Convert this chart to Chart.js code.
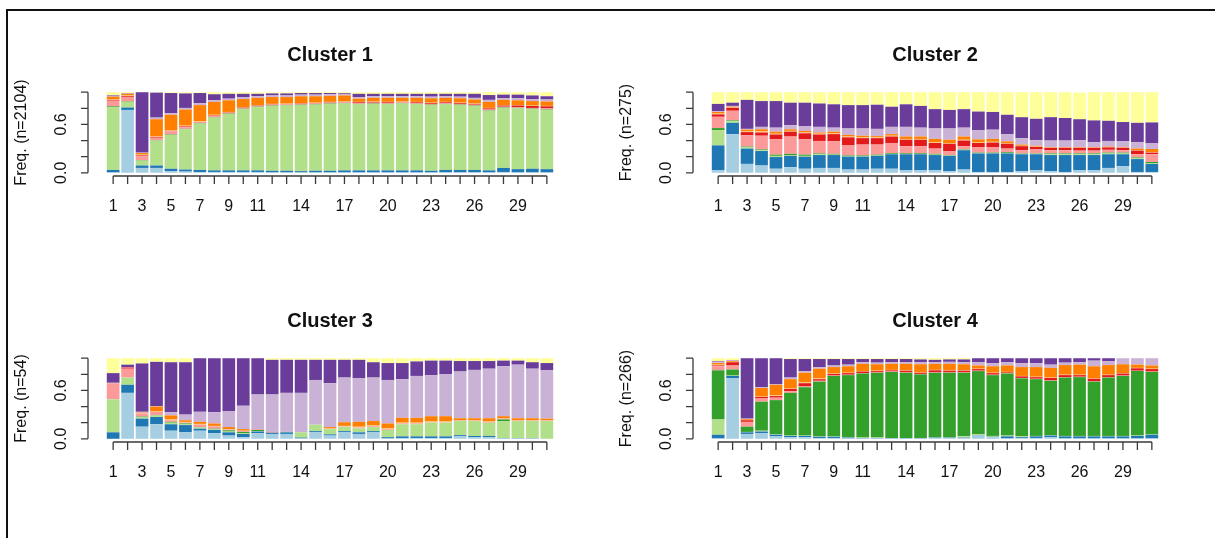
<!DOCTYPE html>
<html>
<head>
<meta charset="utf-8">
<script src="https://cdn.jsdelivr.net/npm/chart.js@4/dist/chart.umd.min.js"></script>
<style>
  html, body { margin: 0; padding: 0; background: #fff; }
  body { width: 1215px; height: 538px; position: relative; overflow: hidden; }
  .frame { position: absolute; left: 6px; top: 9px; width: 1400px; height: 700px;
           border-top: 2px solid #111; border-left: 2px solid #111; }
  .panel { position: absolute; width: 607px; height: 269px; }
  .panel canvas { display: block; }
</style>
</head>
<body>
<div class="frame"></div>
<div class="panel" style="left:0px;top:0px"><canvas id="c1" width="607" height="269"></canvas></div>
<div class="panel" style="left:605px;top:0px"><canvas id="c2" width="607" height="269"></canvas></div>
<div class="panel" style="left:0px;top:266px"><canvas id="c3" width="607" height="269"></canvas></div>
<div class="panel" style="left:605px;top:266px"><canvas id="c4" width="607" height="269"></canvas></div>
<script>
// Time positions (x values) and the labelled subset on the x axis
const positions = [1,2,3,4,5,6,7,8,9,10,11,12,13,14,15,16,17,18,19,20,21,22,23,24,25,26,27,28,29,30,31];
const xTickLabels = ['1','3','5','7','9','11','14','17','20','23','26','29'];
const yTickValues = [0, 0.2, 0.4, 0.6, 0.8, 1.0];
const yTickLabels = ['0.0', '0.6'];

// State alphabet, stacked bottom to top (Paired palette)
const stateNames = ['S1','S2','S3','S4','S5','S6','S7','S8','S9','S10','S11'];
const stateColors = ['#A6CEE3','#1F78B4','#B2DF8A','#33A02C','#FB9A99','#E31A1C',
                     '#FDBF6F','#FF7F00','#CAB2D6','#6A3D9A','#FFFF99'];

const clusterTitles = ['Cluster 1', 'Cluster 2', 'Cluster 3', 'Cluster 4'];
const clusterSizes = [2104, 275, 54, 266];

// Cross-sectional state frequencies: one row per position, one column per state
const cluster1Shares = [
  [0.005,0.03,0.78,0.01,0.07,0.01,0.01,0.03,0.005,0.01,0.04],
  [0.78,0.03,0.07,0.005,0.05,0.015,0.01,0.02,0.005,0.005,0.01],
  [0.06,0.03,0.06,0.005,0.05,0.01,0.01,0.02,0.005,0.75,0.0],
  [0.06,0.03,0.31,0.005,0.03,0.01,0.01,0.21,0.02,0.31,0.005],
  [0.02,0.03,0.42,0.005,0.04,0.005,0.01,0.19,0.02,0.25,0.01],
  [0.015,0.025,0.5,0.005,0.02,0.01,0.01,0.2,0.02,0.18,0.015],
  [0.01,0.025,0.575,0.005,0.01,0.005,0.01,0.2,0.025,0.125,0.01],
  [0.01,0.02,0.655,0.005,0.01,0.01,0.01,0.16,0.02,0.075,0.025],
  [0.01,0.02,0.70,0.005,0.01,0.005,0.005,0.145,0.02,0.06,0.02],
  [0.01,0.02,0.76,0.005,0.01,0.005,0.005,0.1,0.025,0.04,0.02],
  [0.01,0.02,0.785,0.005,0.01,0.005,0.005,0.09,0.02,0.03,0.02],
  [0.005,0.02,0.805,0.005,0.01,0.005,0.005,0.085,0.02,0.025,0.015],
  [0.005,0.02,0.81,0.005,0.01,0.005,0.005,0.08,0.02,0.025,0.015],
  [0.005,0.015,0.82,0.005,0.01,0.005,0.005,0.085,0.02,0.02,0.01],
  [0.005,0.02,0.82,0.005,0.01,0.005,0.005,0.08,0.02,0.02,0.01],
  [0.005,0.02,0.83,0.005,0.01,0.005,0.005,0.075,0.02,0.015,0.01],
  [0.005,0.025,0.83,0.005,0.01,0.005,0.005,0.075,0.02,0.01,0.01],
  [0.005,0.025,0.82,0.005,0.01,0.01,0.005,0.04,0.02,0.04,0.02],
  [0.005,0.025,0.825,0.005,0.01,0.01,0.005,0.045,0.02,0.03,0.02],
  [0.005,0.025,0.82,0.005,0.01,0.01,0.005,0.05,0.02,0.03,0.02],
  [0.005,0.025,0.83,0.005,0.01,0.005,0.005,0.045,0.02,0.03,0.02],
  [0.005,0.025,0.82,0.005,0.01,0.01,0.005,0.05,0.02,0.03,0.02],
  [0.005,0.02,0.815,0.005,0.01,0.01,0.005,0.055,0.02,0.035,0.02],
  [0.005,0.03,0.815,0.005,0.01,0.01,0.005,0.05,0.02,0.03,0.02],
  [0.005,0.03,0.805,0.005,0.01,0.01,0.005,0.055,0.02,0.035,0.02],
  [0.005,0.03,0.795,0.005,0.01,0.01,0.005,0.05,0.02,0.05,0.02],
  [0.005,0.025,0.74,0.005,0.01,0.015,0.005,0.075,0.025,0.06,0.035],
  [0.01,0.05,0.745,0.005,0.01,0.015,0.005,0.065,0.02,0.045,0.03],
  [0.005,0.04,0.755,0.005,0.01,0.02,0.005,0.06,0.025,0.045,0.03],
  [0.005,0.045,0.74,0.005,0.01,0.025,0.005,0.055,0.025,0.045,0.04],
  [0.005,0.04,0.735,0.005,0.015,0.025,0.005,0.055,0.025,0.04,0.05]
];

const cluster2Shares = [
  [0.03,0.31,0.19,0.025,0.14,0.03,0.01,0.02,0.01,0.09,0.145],
  [0.48,0.14,0.02,0.01,0.12,0.035,0.005,0.01,0.01,0.04,0.13],
  [0.11,0.19,0.015,0.01,0.14,0.04,0.01,0.02,0.01,0.36,0.095],
  [0.09,0.18,0.01,0.01,0.17,0.04,0.015,0.025,0.03,0.32,0.11],
  [0.05,0.145,0.015,0.015,0.19,0.06,0.01,0.025,0.05,0.33,0.11],
  [0.07,0.14,0.01,0.015,0.215,0.06,0.01,0.02,0.05,0.28,0.13],
  [0.05,0.15,0.01,0.015,0.19,0.075,0.01,0.02,0.06,0.29,0.13],
  [0.06,0.16,0.01,0.01,0.155,0.08,0.01,0.015,0.07,0.29,0.14],
  [0.06,0.16,0.005,0.01,0.155,0.09,0.01,0.02,0.05,0.29,0.15],
  [0.04,0.16,0.005,0.01,0.125,0.10,0.01,0.02,0.08,0.29,0.16],
  [0.04,0.16,0.005,0.01,0.135,0.08,0.01,0.02,0.09,0.29,0.16],
  [0.05,0.16,0.005,0.01,0.125,0.08,0.01,0.015,0.09,0.30,0.155],
  [0.05,0.18,0.005,0.01,0.125,0.08,0.01,0.02,0.09,0.25,0.18],
  [0.03,0.20,0.005,0.01,0.085,0.08,0.01,0.03,0.12,0.28,0.15],
  [0.03,0.20,0.005,0.01,0.085,0.08,0.01,0.03,0.11,0.27,0.17],
  [0.03,0.19,0.005,0.01,0.065,0.07,0.01,0.04,0.13,0.24,0.21],
  [0.02,0.19,0.005,0.005,0.05,0.09,0.01,0.04,0.14,0.23,0.22],
  [0.04,0.24,0.005,0.005,0.04,0.07,0.01,0.04,0.11,0.23,0.21],
  [0.01,0.23,0.005,0.005,0.07,0.05,0.01,0.035,0.115,0.23,0.24],
  [0.01,0.23,0.005,0.005,0.07,0.055,0.01,0.035,0.115,0.22,0.245],
  [0.01,0.23,0.005,0.01,0.045,0.06,0.01,0.02,0.09,0.24,0.28],
  [0.02,0.21,0.005,0.005,0.04,0.05,0.005,0.015,0.08,0.26,0.31],
  [0.03,0.20,0.005,0.005,0.05,0.03,0.005,0.01,0.07,0.265,0.33],
  [0.02,0.20,0.01,0.01,0.04,0.03,0.005,0.005,0.08,0.29,0.31],
  [0.01,0.21,0.01,0.01,0.04,0.03,0.005,0.005,0.08,0.28,0.32],
  [0.03,0.19,0.01,0.01,0.035,0.035,0.005,0.005,0.085,0.26,0.33],
  [0.03,0.19,0.01,0.01,0.035,0.035,0.005,0.005,0.06,0.27,0.35],
  [0.06,0.17,0.01,0.01,0.035,0.03,0.005,0.005,0.07,0.25,0.355],
  [0.08,0.15,0.01,0.01,0.03,0.03,0.005,0.005,0.07,0.24,0.37],
  [0.01,0.16,0.01,0.01,0.04,0.045,0.005,0.02,0.08,0.24,0.38],
  [0.01,0.10,0.01,0.015,0.095,0.02,0.005,0.04,0.07,0.26,0.375]
];

const cluster3Shares = [
  [0,0.08,0.41,0,0.2,0,0,0,0.005,0.12,0.185],
  [0.57,0.1,0.09,0,0.11,0.015,0,0,0.005,0.03,0.08],
  [0.15,0.1,0.02,0.005,0.04,0,0.005,0.005,0.01,0.6,0.065],
  [0.18,0.09,0.02,0.005,0.04,0,0.005,0.06,0.005,0.55,0.045],
  [0.1,0.08,0.02,0.01,0.02,0,0.01,0.05,0.04,0.62,0.05],
  [0.08,0.09,0.01,0.01,0.01,0,0.01,0.02,0.07,0.65,0.05],
  [0.1,0.025,0.015,0.005,0.03,0,0.01,0.025,0.125,0.665,0],
  [0.07,0.04,0.01,0.005,0.03,0,0.005,0.03,0.14,0.67,0],
  [0.04,0.04,0.01,0.015,0.01,0,0.005,0.025,0.2,0.655,0],
  [0.02,0.04,0.01,0.015,0.01,0,0.005,0.02,0.29,0.59,0],
  [0.07,0.02,0.005,0.015,0.01,0,0,0,0.43,0.45,0],
  [0.06,0.015,0,0,0.01,0,0,0,0.465,0.43,0.02],
  [0.06,0.02,0.005,0,0,0,0,0,0.485,0.41,0.02],
  [0.005,0.01,0.065,0,0,0,0,0,0.49,0.41,0.02],
  [0.08,0.015,0.08,0,0,0,0,0,0.555,0.25,0.02],
  [0.04,0.015,0.065,0,0.005,0,0.005,0.015,0.545,0.29,0.02],
  [0.08,0.015,0.055,0,0.005,0,0.005,0.045,0.555,0.22,0.02],
  [0.06,0.02,0.05,0,0.01,0,0.01,0.06,0.54,0.23,0.02],
  [0.08,0.015,0.05,0,0.01,0,0.01,0.055,0.54,0.19,0.05],
  [0.005,0.015,0.09,0,0.01,0,0.01,0.06,0.54,0.21,0.06],
  [0.01,0.02,0.15,0,0.01,0,0.01,0.06,0.48,0.2,0.06],
  [0.01,0.02,0.15,0,0.01,0,0.01,0.06,0.52,0.18,0.04],
  [0.01,0.02,0.17,0,0.005,0,0.01,0.065,0.51,0.18,0.03],
  [0.01,0.02,0.17,0,0.005,0,0.01,0.065,0.52,0.17,0.03],
  [0.03,0.015,0.175,0,0.005,0,0.005,0.025,0.58,0.13,0.035],
  [0.02,0.015,0.185,0,0.005,0,0.005,0.025,0.6,0.11,0.035],
  [0.02,0.015,0.165,0,0.01,0,0.005,0.04,0.615,0.095,0.035],
  [0.005,0.005,0.21,0.02,0.01,0,0.005,0.025,0.62,0.07,0.03],
  [0.005,0.005,0.21,0,0.005,0,0.005,0.025,0.665,0.05,0.03],
  [0.005,0.005,0.21,0,0.005,0,0.005,0.025,0.615,0.08,0.05],
  [0,0,0.22,0,0.005,0,0.005,0.02,0.6,0.09,0.06]
];

const cluster4Shares = [
  [0.005,0.045,0.19,0.61,0.05,0.01,0.01,0.02,0.01,0.01,0.04],
  [0.75,0.03,0.005,0.075,0.05,0.04,0.005,0.01,0.005,0.005,0.025],
  [0.06,0.02,0.005,0.065,0.06,0.02,0.005,0.01,0.005,0.75,0],
  [0.07,0.02,0.01,0.36,0.04,0.02,0.005,0.105,0.01,0.36,0],
  [0.03,0.02,0.005,0.425,0.03,0.02,0.01,0.13,0.01,0.32,0],
  [0.02,0.015,0.005,0.53,0.02,0.03,0.01,0.11,0.02,0.23,0.01],
  [0.02,0.015,0.005,0.60,0.01,0.04,0.01,0.12,0.02,0.15,0.01],
  [0.01,0.015,0.005,0.68,0.01,0.02,0.01,0.12,0.02,0.1,0.01],
  [0.01,0.015,0.005,0.75,0.005,0.02,0.005,0.08,0.02,0.08,0.01],
  [0.005,0.01,0.005,0.77,0.005,0.02,0.005,0.08,0.02,0.07,0.01],
  [0.005,0.005,0.005,0.795,0.005,0.02,0.005,0.09,0.02,0.04,0.01],
  [0.005,0.005,0.005,0.805,0.005,0.015,0.005,0.08,0.02,0.045,0.01],
  [0.005,0.005,0.0,0.82,0.005,0.015,0.005,0.075,0.02,0.04,0.01],
  [0.005,0.005,0.0,0.81,0.005,0.02,0.005,0.08,0.02,0.04,0.01],
  [0.005,0.005,0,0.79,0.005,0.015,0.005,0.1,0.025,0.035,0.015],
  [0.01,0.005,0.005,0.80,0.005,0.025,0.005,0.075,0.02,0.03,0.02],
  [0.01,0.005,0.005,0.80,0.005,0.02,0.005,0.08,0.025,0.03,0.015],
  [0.01,0.005,0.015,0.79,0.005,0.02,0.005,0.075,0.025,0.035,0.015],
  [0.04,0.005,0.01,0.785,0.005,0.02,0.005,0.04,0.04,0.05,0],
  [0.02,0.005,0.01,0.755,0.005,0.02,0.005,0.08,0.04,0.06,0],
  [0.005,0.025,0.01,0.77,0.005,0.01,0.005,0.08,0.04,0.05,0],
  [0.01,0.01,0.01,0.72,0.005,0.02,0.005,0.11,0.05,0.06,0],
  [0.01,0.02,0.005,0.705,0.005,0.02,0.005,0.12,0.05,0.06,0],
  [0.02,0.02,0.005,0.675,0.005,0.03,0.005,0.12,0.04,0.08,0],
  [0.005,0.025,0.005,0.725,0.005,0.025,0.005,0.12,0.03,0.055,0],
  [0.005,0.025,0.005,0.73,0.005,0.02,0.005,0.125,0.03,0.05,0],
  [0.005,0.025,0.005,0.675,0.005,0.03,0.005,0.15,0.07,0.03,0],
  [0.005,0.025,0.005,0.725,0.005,0.025,0.005,0.12,0.05,0.035,0],
  [0.005,0.025,0.005,0.745,0.005,0.025,0.005,0.11,0.075,0,0],
  [0.005,0.03,0.005,0.80,0.005,0.03,0.005,0.04,0.08,0,0],
  [0.005,0.045,0.005,0.775,0.005,0.03,0.005,0.04,0.09,0,0]
];

const clusterShares = [cluster1Shares, cluster2Shares, cluster3Shares, cluster4Shares];

const FONT = '"Liberation Sans", Arial, Helvetica, sans-serif';

// Base-graphics style axes, title and y label drawn from the chart's own scales
const baseAxes = {
  id: 'baseAxes',
  afterDraw(chart, args, opts) {
    const { ctx, chartArea: a } = chart;
    const xs = chart.scales.x, ys = chart.scales.y;
    ctx.save();
    ctx.strokeStyle = '#3a3a3a';
    ctx.lineWidth = 1.3;
    ctx.beginPath();
    // y axis from 0 to 1 with outward ticks
    ctx.moveTo(a.left, ys.getPixelForValue(0));
    ctx.lineTo(a.left, ys.getPixelForValue(1));
    yTickValues.forEach(v => {
      const py = ys.getPixelForValue(v);
      ctx.moveTo(a.left, py);
      ctx.lineTo(a.left - 7, py);
    });
    // x axis spanning first to last position
    const xFirst = xs.getPixelForValue(positions[0]);
    const xLast = xs.getPixelForValue(positions[positions.length - 1]);
    ctx.moveTo(xFirst, a.bottom);
    ctx.lineTo(xLast, a.bottom);
    positions.forEach(p => {
      const px = xs.getPixelForValue(p);
      ctx.moveTo(px, a.bottom);
      ctx.lineTo(px, a.bottom + 8);
    });
    ctx.stroke();

    ctx.fillStyle = '#111';
    ctx.font = '16px ' + FONT;
    ctx.textAlign = 'center';
    ctx.textBaseline = 'alphabetic';
    xTickLabels.forEach(t => {
      ctx.fillText(t, xs.getPixelForValue(Number(t)), a.bottom + 35);
    });
    yTickLabels.forEach(t => {
      ctx.save();
      ctx.translate(a.left - 22, ys.getPixelForValue(Number(t)));
      ctx.rotate(-Math.PI / 2);
      ctx.fillText(t, 0, 0);
      ctx.restore();
    });
    // y label
    ctx.save();
    ctx.translate(26, (a.top + a.bottom) / 2);
    ctx.rotate(-Math.PI / 2);
    ctx.fillText(opts.yTitle, 0, 0);
    ctx.restore();
    // panel title
    ctx.font = 'bold 20px ' + FONT;
    ctx.fillText(opts.title, (a.left + a.right) / 2, a.top - 28.5);
    ctx.restore();
  }
};

clusterShares.forEach((shares, k) => {
  const datasets = stateNames.map((name, s) => ({
    label: name,
    data: positions.map((p, i) => ({ x: p, y: shares[i][s] })),
    backgroundColor: stateColors[s],
    borderWidth: 0,
    barPercentage: 0.88,
    categoryPercentage: 1.0
  }));
  new Chart(document.getElementById('c' + (k + 1)), {
    type: 'bar',
    data: { datasets },
    options: {
      responsive: false,
      animation: false,
      devicePixelRatio: 1,
      layout: { padding: { left: 88, top: 89, right: 35, bottom: 93 } },
      plugins: {
        legend: { display: false },
        tooltip: { enabled: false },
        baseAxes: { title: clusterTitles[k], yTitle: 'Freq. (n=' + clusterSizes[k] + ')' }
      },
      scales: {
        x: { type: 'linear', min: -0.74, max: 32.74, offset: false, stacked: true, display: false },
        y: { min: -0.04, max: 1.04, stacked: true, display: false }
      }
    },
    plugins: [baseAxes]
  });
});
</script>
</body>
</html>
